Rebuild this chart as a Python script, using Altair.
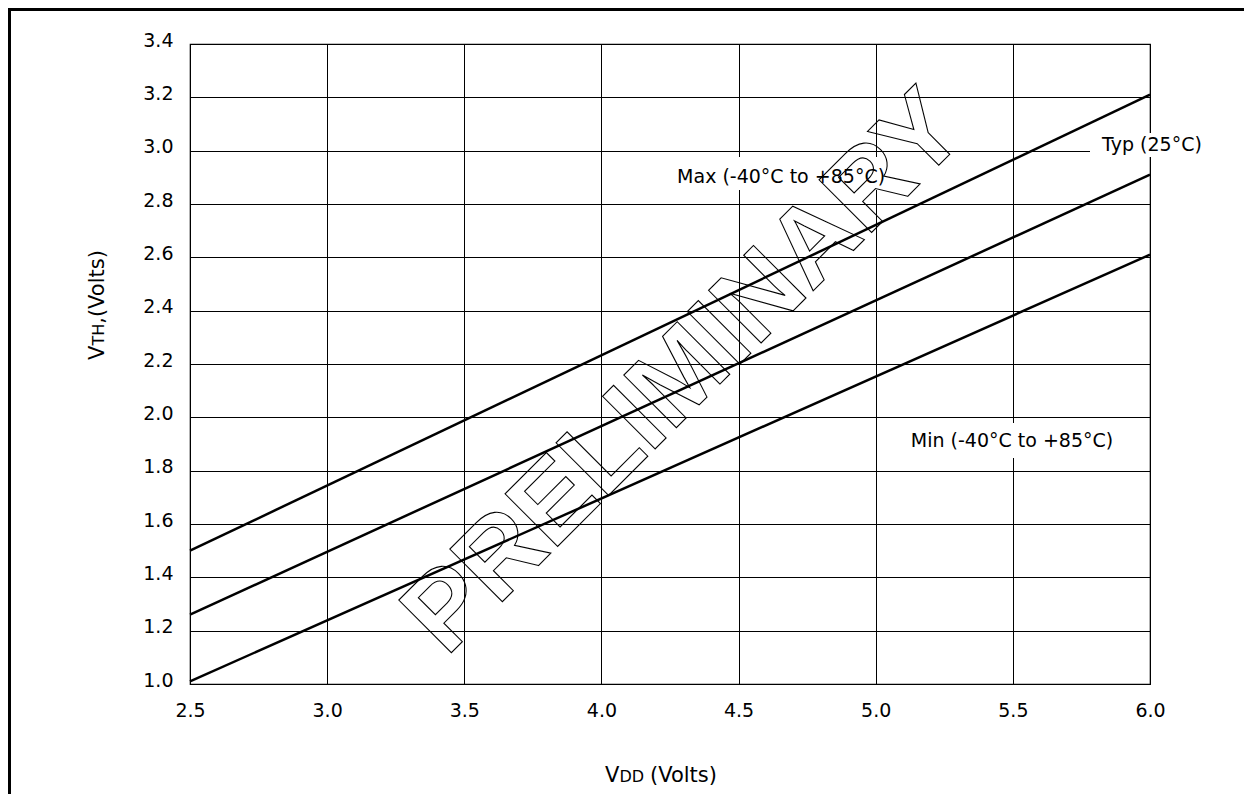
import altair as alt
import pandas as pd

# ---- data ----
vdd = [2.5, 6.0]
vth_max = [1.50, 3.21]
vth_typ = [1.26, 2.91]
vth_min = [1.01, 2.61]
series_names = ["Max", "Typ", "Min"]

x_ticks = [2.5, 3.0, 3.5, 4.0, 4.5, 5.0, 5.5, 6.0]
y_ticks = [1.0, 1.2, 1.4, 1.6, 1.8, 2.0, 2.2, 2.4, 2.6, 2.8, 3.0, 3.2, 3.4]

ann_text = ["Max (-40°C to +85°C)", "Typ (25°C)", "Min (-40°C to +85°C)"]
ann_vdd = [4.655, 6.007, 5.497]
ann_vth = [2.90, 3.02, 1.912]

FONT = "DejaVu Sans"
W, H = 960, 640

rows = []
for name, ys in zip(series_names, [vth_max, vth_typ, vth_min]):
    for xv, yv in zip(vdd, ys):
        rows.append({"series": name, "vdd": xv, "vth": yv})
lines_df = pd.DataFrame(rows)
ann_df = pd.DataFrame({"text": ann_text, "vdd": ann_vdd, "vth": ann_vth})

xscale = alt.Scale(domain=[2.5, 6.0], nice=False, zero=False)
yscale = alt.Scale(domain=[1.0, 3.4], nice=False, zero=False)

base = alt.Chart(lines_df)

lines = base.mark_line(color="black", strokeWidth=2.5).encode(
    x=alt.X("vdd:Q", scale=xscale,
            axis=alt.Axis(values=x_ticks, format=".1f", title=None,
                          labelPadding=17, labelBaseline="top",
                          labelFlush=False, labelOverlap=False)),
    y=alt.Y("vth:Q", scale=yscale,
            axis=alt.Axis(values=y_ticks, format=".1f", title=None,
                          labelPadding=17, labelOffset=-4,
                          labelFlush=False, labelOverlap=False)),
    detail="series:N",
)

one = pd.DataFrame({"k": [0]})

# white boxes behind the annotation labels
boxes_df = pd.DataFrame({
    "x": [472, 900, 705], "x2": [710, 1030, 940],
    "y": [113, 89, 379], "y2": [146, 113, 414],
})
boxes = alt.Chart(boxes_df).mark_rect(fill="white").encode(
    x=alt.X("x:Q", scale=None), x2="x2:Q",
    y=alt.Y("y:Q", scale=None), y2="y2:Q",
)

ann = alt.Chart(ann_df).mark_text(
    font=FONT, fontSize=19, color="black", align="center", baseline="middle"
).encode(
    x=alt.X("vdd:Q", scale=xscale),
    y=alt.Y("vth:Q", scale=yscale),
    text="text:N",
)

# axis titles with small-caps subscripts
xt1 = alt.Chart(one).mark_text(font=FONT, fontSize=21, align="left", baseline="alphabetic", color="black").encode(
    x=alt.value(415), y=alt.value(738), text=alt.value("V"))
xt2 = alt.Chart(one).mark_text(font=FONT, fontSize=16, align="left", baseline="alphabetic", color="black").encode(
    x=alt.value(429.4), y=alt.value(738), text=alt.value("DD"))
xt3 = alt.Chart(one).mark_text(font=FONT, fontSize=21, align="left", baseline="alphabetic", color="black").encode(
    x=alt.value(460), y=alt.value(738), text=alt.value("(Volts)"))

yt1 = alt.Chart(one).mark_text(font=FONT, fontSize=21, align="left", baseline="alphabetic", angle=270, color="black").encode(
    x=alt.value(-86), y=alt.value(316), text=alt.value("V"))
yt2 = alt.Chart(one).mark_text(font=FONT, fontSize=16, align="left", baseline="alphabetic", angle=270, color="black").encode(
    x=alt.value(-86), y=alt.value(301.6), text=alt.value("TH"))
yt3 = alt.Chart(one).mark_text(font=FONT, fontSize=21, align="left", baseline="alphabetic", angle=270, color="black").encode(
    x=alt.value(-86), y=alt.value(279.8), text=alt.value(",(Volts)"))

watermark = alt.Chart(one).mark_text(
    font="Liberation Sans", fontSize=108, fontWeight="bold", angle=315,
    align="center", baseline="alphabetic",
    fill="white", fillOpacity=0, stroke="black", strokeWidth=1.1,
).encode(x=alt.value(518), y=alt.value(352), text=alt.value("PRELIMINARY"))

frame = alt.Chart(one).mark_rect(fill="white", fillOpacity=0, stroke="black", strokeWidth=3).encode(
    x=alt.value(-180.5), x2=alt.value(1200), y=alt.value(-34.5), y2=alt.value(900))

chart = alt.layer(
    boxes, lines, ann, xt1, xt2, xt3, yt1, yt2, yt3, watermark, frame
).properties(
    width=W, height=H,
    background="white",
    autosize=alt.AutoSizeParams(type="none"),
    padding={"left": 182, "top": 36, "right": 94, "bottom": 110},
).configure_view(
    stroke="black", strokeWidth=1.2
).configure_axis(
    domain=False, ticks=False, grid=True, gridColor="black", gridOpacity=1,
    gridWidth=1, labelFont=FONT, labelFontSize=19, labelColor="black",
)

chart.save("out.html", embed_options={"renderer": "svg", "actions": False})
